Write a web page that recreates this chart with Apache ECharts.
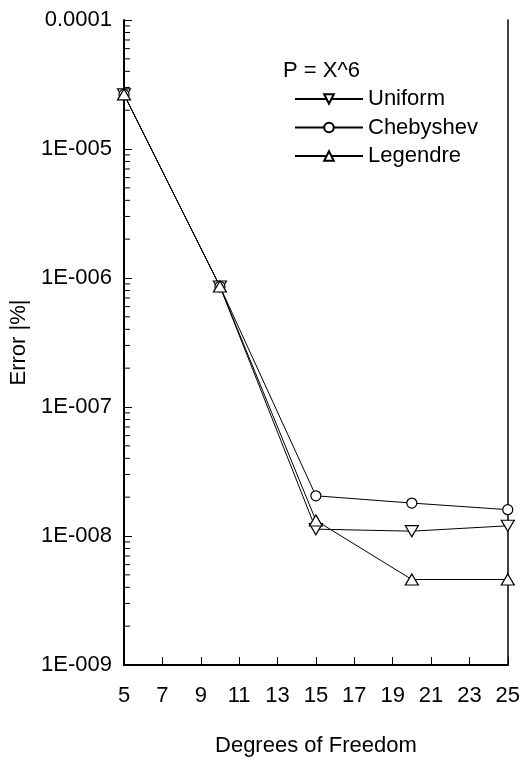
<!DOCTYPE html>
<html>
<head>
<meta charset="utf-8">
<script src="https://cdn.jsdelivr.net/npm/echarts@6/dist/echarts.min.js"></script>
<style>
html,body{margin:0;padding:0;background:#fff;}
#chart{width:523px;height:762px;}
</style>
</head>
<body>
<div id="chart"></div>
<script>
// Data
var dof = [5, 10, 15, 20, 25];
var uniform = [2.65e-5, 8.6e-7, 1.13e-8, 1.09e-8, 1.2e-8];
var chebyshev = [2.65e-5, 8.6e-7, 2.05e-8, 1.8e-8, 1.6e-8];
var legendre = [2.65e-5, 8.6e-7, 1.32e-8, 4.6e-9, 4.6e-9];
var seriesNames = ['Uniform', 'Chebyshev', 'Legendre'];
var xTicks = [5, 7, 9, 11, 13, 15, 17, 19, 21, 23, 25];
var yMin = 1e-9, yMax = 1e-4;

function pairs(xs, ys) { return xs.map(function (x, i) { return [x, ys[i]]; }); }

// minor tick positions for the log axis (2..9 within each decade)
var minorTicks = [];
for (var e = -9; e < -4; e++) {
  for (var m = 2; m <= 9; m++) minorTicks.push([xTicks[0], m * Math.pow(10, e)]);
}

var FONT = 'Liberation Sans, Arial, sans-serif';
var chart = echarts.init(document.getElementById('chart'));

function fmtY(v) {
  var ex = Math.round(Math.log10(v));
  if (ex === -4) return '0.0001';
  var s = String(-ex);
  while (s.length < 3) s = '0' + s;
  return '1E-' + s;
}

var baseLine = { type: 'line', lineStyle: { color: '#000', width: 1 }, itemStyle: { color: '#fff', borderColor: '#000', borderWidth: 1.2 }, showSymbol: true, z: 3, clip: false };

chart.setOption({
  animation: false,
  backgroundColor: '#fff',
  title: {
    text: 'P = X^6', left: 278, top: 55,
    textStyle: { fontFamily: FONT, fontSize: 22, fontWeight: 'normal', color: '#000' }
  },
  legend: {
    orient: 'vertical', left: 289, top: 83,
    data: seriesNames,
    itemWidth: 68, itemHeight: 12, itemGap: 6.5,
    textStyle: { fontFamily: FONT, fontSize: 22, color: '#000', lineHeight: 22 }
  },
  grid: { left: 124, right: 11, top: 20, bottom: 96, containLabel: false },
  xAxis: {
    type: 'value', min: 5, max: 25, interval: 2,
    name: 'Degrees of Freedom', nameLocation: 'middle', nameGap: 70,
    nameTextStyle: { fontFamily: FONT, fontSize: 22, color: '#000' },
    axisLine: { show: true, lineStyle: { color: '#000', width: 2 } },
    axisTick: { show: true, inside: true, length: 8, lineStyle: { color: '#000', width: 1 } },
    axisLabel: { fontFamily: FONT, fontSize: 22, color: '#000', margin: 20 },
    splitLine: { show: false }
  },
  yAxis: [{
    type: 'log', logBase: 10, min: yMin, max: yMax,
    name: 'Error |%|', nameLocation: 'middle', nameGap: 94, nameRotate: 90,
    nameTextStyle: { fontFamily: FONT, fontSize: 22, color: '#000' },
    axisLine: { show: true, lineStyle: { color: '#000', width: 2 } },
    axisTick: { show: true, inside: true, length: 8, lineStyle: { color: '#000', width: 1 } },
    axisLabel: { fontFamily: FONT, fontSize: 22, color: '#000', margin: 12, formatter: fmtY },
    splitLine: { show: false }
  }, {
    type: 'log', logBase: 10, min: yMin, max: yMax, position: 'right',
    axisLine: { show: true, lineStyle: { color: '#000', width: 1.5 } },
    axisTick: { show: false }, axisLabel: { show: false }, splitLine: { show: false }
  }],
  series: [
    Object.assign({}, baseLine, { name: seriesNames[0], data: pairs(dof, uniform), symbol: 'triangle', symbolRotate: 180, symbolSize: [13, 11] }),
    Object.assign({}, baseLine, { name: seriesNames[1], data: pairs(dof, chebyshev), symbol: 'circle', symbolSize: 10 }),
    Object.assign({}, baseLine, { name: seriesNames[2], data: pairs(dof, legendre), symbol: 'triangle', symbolSize: [13, 11] }),
    {
      type: 'custom', silent: true, z: 2, clip: false,
      data: minorTicks,
      renderItem: function (params, api) {
        var p = api.coord([api.value(0), api.value(1)]);
        return { type: 'line', shape: { x1: p[0], y1: p[1], x2: p[0] + 6, y2: p[1] }, style: { stroke: '#000', lineWidth: 1 } };
      }
    }
  ]
});
</script>
</body>
</html>
